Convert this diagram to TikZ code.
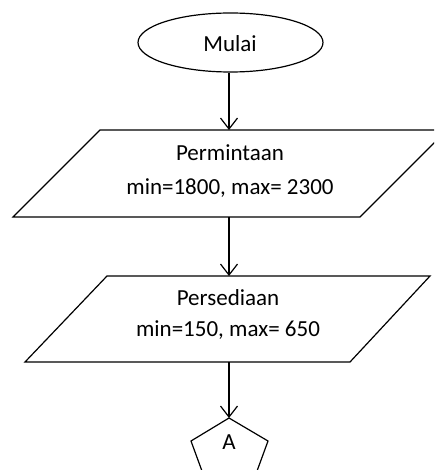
\documentclass[tikz,border=0pt]{standalone}
\usepackage{fontspec}
\setmainfont{Carlito}
\usetikzlibrary{arrows.meta,shapes.geometric}
\begin{document}
\begin{tikzpicture}[x=1pt,y=-1pt,
  shp/.style={draw=black,line width=1.2pt,line join=miter},
  lbl/.style={font=\fontsize{23}{35}\selectfont,align=center,inner sep=0pt},
  conn/.style={draw=black,line width=1.2pt,-{Straight Barb[length=11pt,width=17pt,line width=1.2pt]}}]
\useasboundingbox (0,0) rectangle (434,470);
\clip (0,0) rectangle (434,470);
% start
\node[ellipse,shp,minimum width=185pt,minimum height=59pt,inner sep=0pt] (start) at (230.5,42.5) {};
\node[lbl] (startt) at (230,44) {Mulai};
% input 1
\draw[shp] (100,130) -- (447,130) -- (360,217) -- (13,217) -- cycle;
\coordinate (in1top) at (229,130);
\coordinate (in1bot) at (229,217);
\node[lbl] (in1a) at (230,153) {Permintaan};
\node[lbl] (in1b) at (230,188) {min=1800, max= 2300};
% input 2
\draw[shp] (107,276) -- (430,276) -- (350,362) -- (25,362) -- cycle;
\coordinate (in2top) at (229,276);
\coordinate (in2bot) at (229,362);
\node[lbl] (in2a) at (228,298) {Persediaan};
\node[lbl] (in2b) at (228,330) {min=150, max= 650};
% connector A
\draw[shp] (229,418) -- (268,441) -- (253,482) -- (206,482) -- (191,441) -- cycle;
\coordinate (contop) at (229,418);
\node[lbl] (cont) at (229,442) {A};
% connectors
\draw[conn] (start.south -| in1top) -- (in1top);
\draw[conn] (in1bot) -- (in2top);
\draw[conn] (in2bot) -- (contop);
\end{tikzpicture}
\end{document}
